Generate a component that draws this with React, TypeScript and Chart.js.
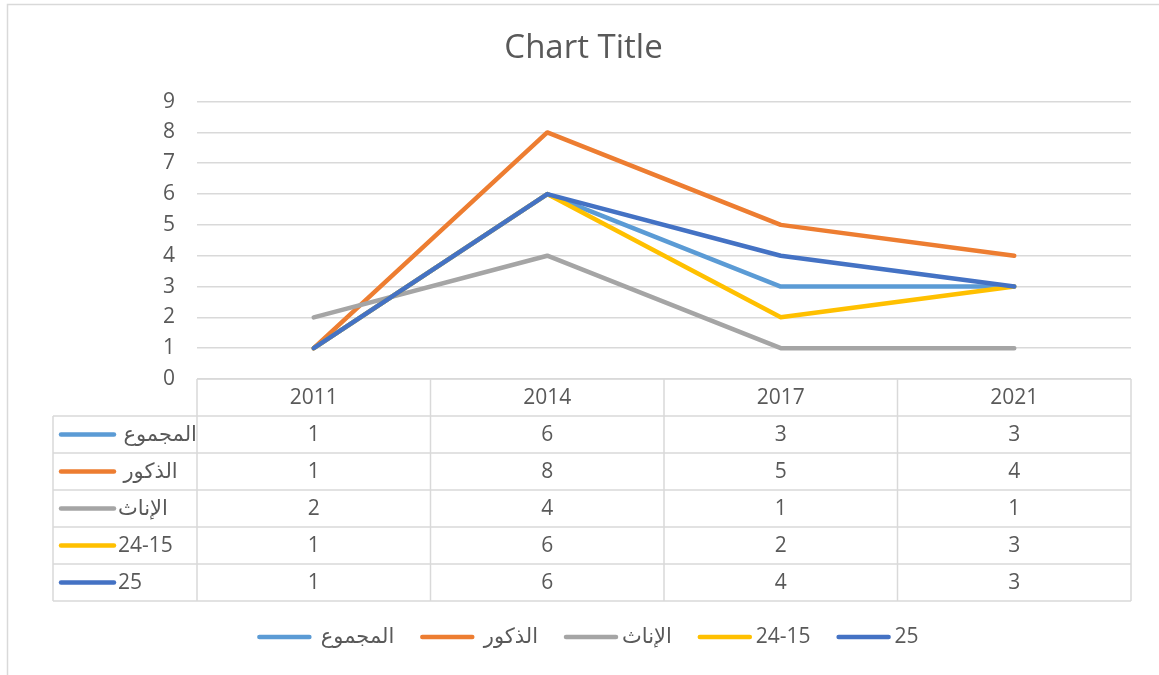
import React, { useEffect, useRef } from "react";
import { Chart, registerables } from "chart.js";

Chart.register(...registerables);

// ---------- data ----------
const categories = ["2011", "2014", "2017", "2021"];
const seriesNames = ["المجموع ", "الذكور ", "الإناث", "24-15", "25"];
const totalValues = [1, 6, 3, 3];
const maleValues = [1, 8, 5, 4];
const femaleValues = [2, 4, 1, 1];
const age15to24Values = [1, 6, 2, 3];
const age25Values = [1, 6, 4, 3];
const yMin = 0;
const yMax = 9;
const yStep = 1;
const chartTitle = "Chart Title";

// ---------- styles ----------
const seriesColors = ["#5B9BD5", "#ED7D31", "#A5A5A5", "#FFC000", "#4472C4"];
const FONT = "'Open Sans', 'DejaVu Sans', sans-serif";
const TEXT_COLOR = "#595959";
const GRID_COLOR = "#D9D9D9";
const W = 1159;
const H = 675;
const TEXT_SIZE = 21;

const frameAndTablePlugin = {
  id: "frameAndTable",
  beforeDraw(chart: any) {
    const ctx = chart.ctx;
    ctx.save();
    ctx.fillStyle = "#ffffff";
    ctx.fillRect(0, 0, chart.width, chart.height);
    ctx.strokeStyle = GRID_COLOR;
    ctx.lineWidth = 1.5;
    ctx.strokeRect(7.5, 4.5, chart.width + 20, chart.height + 20);
    ctx.restore();
  },
  afterDraw(chart: any) {
    const ctx = chart.ctx;
    const area = chart.chartArea;
    const xs = chart.scales.x;
    const datasets = chart.data.datasets;
    const labels = chart.data.labels as string[];
    const rowH = 37;
    const tableLeft = 53;
    const top = area.bottom;
    const cellW = xs.getPixelForValue(1) - xs.getPixelForValue(0);
    const nRows = datasets.length;
    const bottom = top + rowH * (nRows + 1);

    ctx.save();
    ctx.strokeStyle = GRID_COLOR;
    ctx.lineWidth = 1.5;
    ctx.beginPath();
    ctx.moveTo(area.left, top);
    ctx.lineTo(area.right, top);
    for (let r = 1; r <= nRows + 1; r++) {
      const y = top + rowH * r;
      ctx.moveTo(tableLeft, y);
      ctx.lineTo(area.right, y);
    }
    for (let k = 0; k <= labels.length; k++) {
      const x = xs.getPixelForValue(0) - cellW / 2 + k * cellW;
      ctx.moveTo(x, top);
      ctx.lineTo(x, bottom);
    }
    ctx.moveTo(tableLeft, top + rowH);
    ctx.lineTo(tableLeft, bottom);
    ctx.stroke();

    ctx.fillStyle = TEXT_COLOR;
    ctx.font = `${TEXT_SIZE}px ${FONT}`;
    ctx.textAlign = "center";
    ctx.textBaseline = "middle";
    labels.forEach((lab, i) => {
      ctx.fillText(lab, xs.getPixelForValue(i), top + rowH / 2 + 1);
    });
    datasets.forEach((ds: any, r: number) => {
      const cy = top + rowH * (r + 1) + rowH / 2 + 1;
      ds.data.forEach((v: number, i: number) => {
        ctx.fillText(String(v), xs.getPixelForValue(i), cy);
      });
      ctx.strokeStyle = ds.borderColor;
      ctx.lineWidth = 4.5;
      ctx.lineCap = "round";
      ctx.beginPath();
      ctx.moveTo(61, cy - 1);
      ctx.lineTo(114, cy - 1);
      ctx.stroke();
      ctx.save();
      ctx.direction = "rtl";
      ctx.textAlign = "left";
      ctx.fillText(ds.label, 118, cy);
      ctx.restore();
    });

    // legend
    const lineLen = 54;
    const gap = 4;
    const itemGap = 26;
    const centerX = 588;
    const ly = 637;
    ctx.font = `${TEXT_SIZE}px ${FONT}`;
    const widths = datasets.map((ds: any) => {
      ctx.save();
      ctx.direction = "rtl";
      const w = ctx.measureText(ds.label).width;
      ctx.restore();
      return w;
    });
    const total =
      widths.reduce((a: number, b: number) => a + b + lineLen + gap, 0) +
      itemGap * (datasets.length - 1);
    let x = centerX - total / 2;
    datasets.forEach((ds: any, i: number) => {
      ctx.strokeStyle = ds.borderColor;
      ctx.lineWidth = 4.5;
      ctx.lineCap = "round";
      ctx.beginPath();
      ctx.moveTo(x + 2, ly);
      ctx.lineTo(x + lineLen - 2, ly);
      ctx.stroke();
      ctx.save();
      ctx.direction = "rtl";
      ctx.textAlign = "left";
      ctx.textBaseline = "middle";
      ctx.fillStyle = TEXT_COLOR;
      ctx.fillText(ds.label, x + lineLen + gap, ly);
      ctx.restore();
      x += lineLen + gap + widths[i] + itemGap;
    });
    ctx.restore();
  },
};

export default function App() {
  const ref = useRef<HTMLCanvasElement | null>(null);

  useEffect(() => {
    if (!ref.current) return;
    const values = [totalValues, maleValues, femaleValues, age15to24Values, age25Values];
    const chart = new Chart(ref.current, {
      type: "line",
      data: {
        labels: categories,
        datasets: values.map((d, i) => ({
          label: seriesNames[i],
          data: d,
          borderColor: seriesColors[i],
          backgroundColor: seriesColors[i],
          borderWidth: 4.5,
          borderCapStyle: "round",
          borderJoinStyle: "round",
          pointRadius: 0,
          pointHoverRadius: 0,
          tension: 0,
          fill: false,
          order: values.length - 1 - i,
        })),
      },
      options: {
        animation: false,
        responsive: false,
        devicePixelRatio: 1,
        layout: { padding: { left: 36, right: 28, top: 0, bottom: 0 } },
        plugins: {
          legend: { display: false },
          tooltip: { enabled: false },
          title: {
            display: true,
            text: chartTitle,
            color: TEXT_COLOR,
            font: { family: FONT, size: 33, weight: "normal" },
            padding: { top: 29, bottom: 33 },
          },
        },
        scales: {
          x: {
            type: "category",
            offset: true,
            grid: { display: false },
            border: { display: false },
            ticks: { display: false },
            afterFit: (s: any) => {
              s.height = 296;
            },
          },
          y: {
            min: yMin,
            max: yMax,
            ticks: {
              stepSize: yStep,
              color: TEXT_COLOR,
              font: { family: FONT, size: TEXT_SIZE },
              padding: 22,
            },
            grid: { color: GRID_COLOR, lineWidth: 1.5, drawTicks: false },
            border: { display: false },
            afterFit: (s: any) => {
              s.width = 161;
            },
          },
        },
      },
      plugins: [frameAndTablePlugin],
    } as any);
    return () => chart.destroy();
  }, []);

  return (
    <div
      style={{
        position: "fixed",
        left: 0,
        top: 0,
        width: W,
        height: H,
        background: "#ffffff",
      }}
    >
      <canvas ref={ref} width={W} height={H} style={{ display: "block" }} />
    </div>
  );
}
